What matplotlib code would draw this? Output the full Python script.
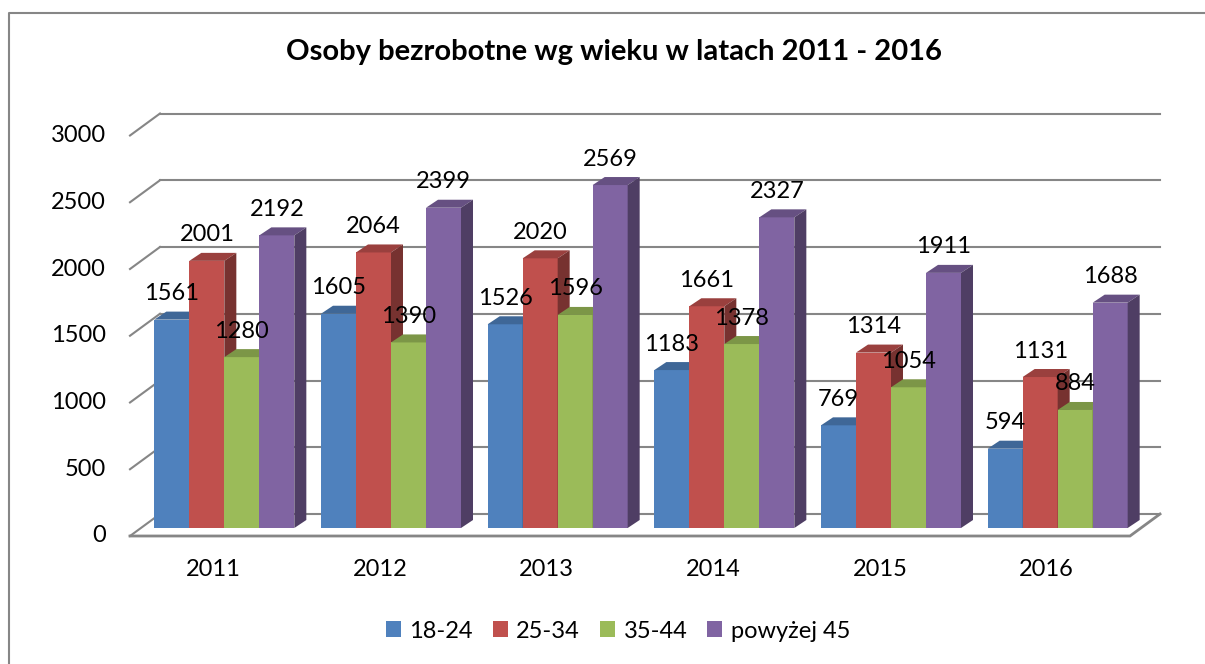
import matplotlib
matplotlib.use('Agg')
import matplotlib.pyplot as plt
from matplotlib.patches import Polygon, Patch
from matplotlib.lines import Line2D
import matplotlib.colors as mcolors
import numpy as np

plt.rcParams['font.family'] = ['Lato', 'DejaVu Sans']

# data
years = ['2011', '2012', '2013', '2014', '2015', '2016']
series = ['18-24', '25-34', '35-44', 'powyżej 45']
v_18_24 = [1561, 1605, 1526, 1183, 769, 594]
v_25_34 = [2001, 2064, 2020, 1661, 1314, 1131]
v_35_44 = [1280, 1390, 1596, 1378, 1054, 884]
v_45 = [2192, 2399, 2569, 2327, 1911, 1688]
values = [v_18_24, v_25_34, v_35_44, v_45]
yticks = [0, 500, 1000, 1500, 2000, 2500, 3000]

colors = ['#4F81BD', '#C0504D', '#9BBB59', '#8064A2']
grid_clr = '#868686'

W, H = 1205, 664
fig = plt.figure(figsize=(W/100, H/100), dpi=100)
ax_w, ax_h = 1000, 400.5
ax = fig.add_axes([141/W, 136/H, ax_w/W, ax_h/H])
ax.set_xlim(-0.5, 5.5)
ax.set_ylim(0, 3000)
ax.axis('off')

sx = 6/ax_w      # data units per pixel
sy = 3000/ax_h

# depth offsets (pixels, y up)
fdx, fdy = -11, -8    # front of floor
bdx, bdy = 19, 14     # back wall
ddx, ddy = 12, 8      # bar depth

# back wall gridlines + side diagonals
for v in yticks:
    ax.plot([-0.5+bdx*sx, 5.5+bdx*sx], [v+bdy*sy, v+bdy*sy], color=grid_clr, lw=1.5, clip_on=False, zorder=1)
    ax.plot([-0.5+fdx*sx, -0.5+bdx*sx], [v+fdy*sy, v+bdy*sy], color=grid_clr, lw=1.5, clip_on=False, zorder=1)
    ax.text(-0.5+fdx*sx-24*sx, v+fdy*sy, str(v), ha='right', va='center', fontsize=17)

# floor edges
ax.plot([-0.5+fdx*sx, 5.5+fdx*sx, 5.5+bdx*sx], [fdy*sy, fdy*sy, bdy*sy], color=grid_clr, lw=2, clip_on=False, zorder=1, solid_joinstyle='miter')

bw = 0.21
x = np.arange(len(years))
z = 2
for i in range(len(years)):
    for k in range(len(series)):
        val = values[k][i]
        xl = x[i] + (k-2)*bw
        xr = xl + bw
        c = np.array(mcolors.to_rgb(colors[k]))
        ax.bar(xl, val, width=bw, align='edge', color=colors[k], zorder=z, clip_on=False)
        top = Polygon([(xl, val), (xr, val), (xr+ddx*sx, val+ddy*sy), (xl+ddx*sx, val+ddy*sy)],
                      closed=True, color=c*0.8, zorder=z, clip_on=False, lw=0)
        side = Polygon([(xr, 0), (xr+ddx*sx, ddy*sy), (xr+ddx*sx, val+ddy*sy), (xr, val)],
                       closed=True, color=c*0.62, zorder=z, clip_on=False, lw=0)
        ax.add_patch(top)
        ax.add_patch(side)
        z += 1
        ax.annotate(str(val), (xl+bw/2, val), xytext=(0, 26), textcoords='offset pixels',
                    ha='center', va='center', fontsize=17, zorder=100)

for i, yr in enumerate(years):
    ax.text(x[i]+fdx*sx, fdy*sy-33*sy, yr, ha='center', va='center', fontsize=17)

fig.text(614/W, 1-52/H, 'Osoby bezrobotne wg wieku w latach 2011 - 2016',
         ha='center', va='center', fontsize=21, fontweight='bold')

handles = [Patch(facecolor=c, edgecolor='none') for c in colors]
fig.legend(handles, series, loc='center', bbox_to_anchor=(618/W, 33/H), ncol=4, frameon=False,
           fontsize=17, handlelength=0.64, handleheight=0.64, handletextpad=0.35, columnspacing=0.85)

# chart frame
fig.add_artist(Line2D([9/W, 9/W, 1.0], [0.0, 1-13/H, 1-13/H], color=grid_clr, lw=1.5))

fig.savefig('out.png', dpi=100)
